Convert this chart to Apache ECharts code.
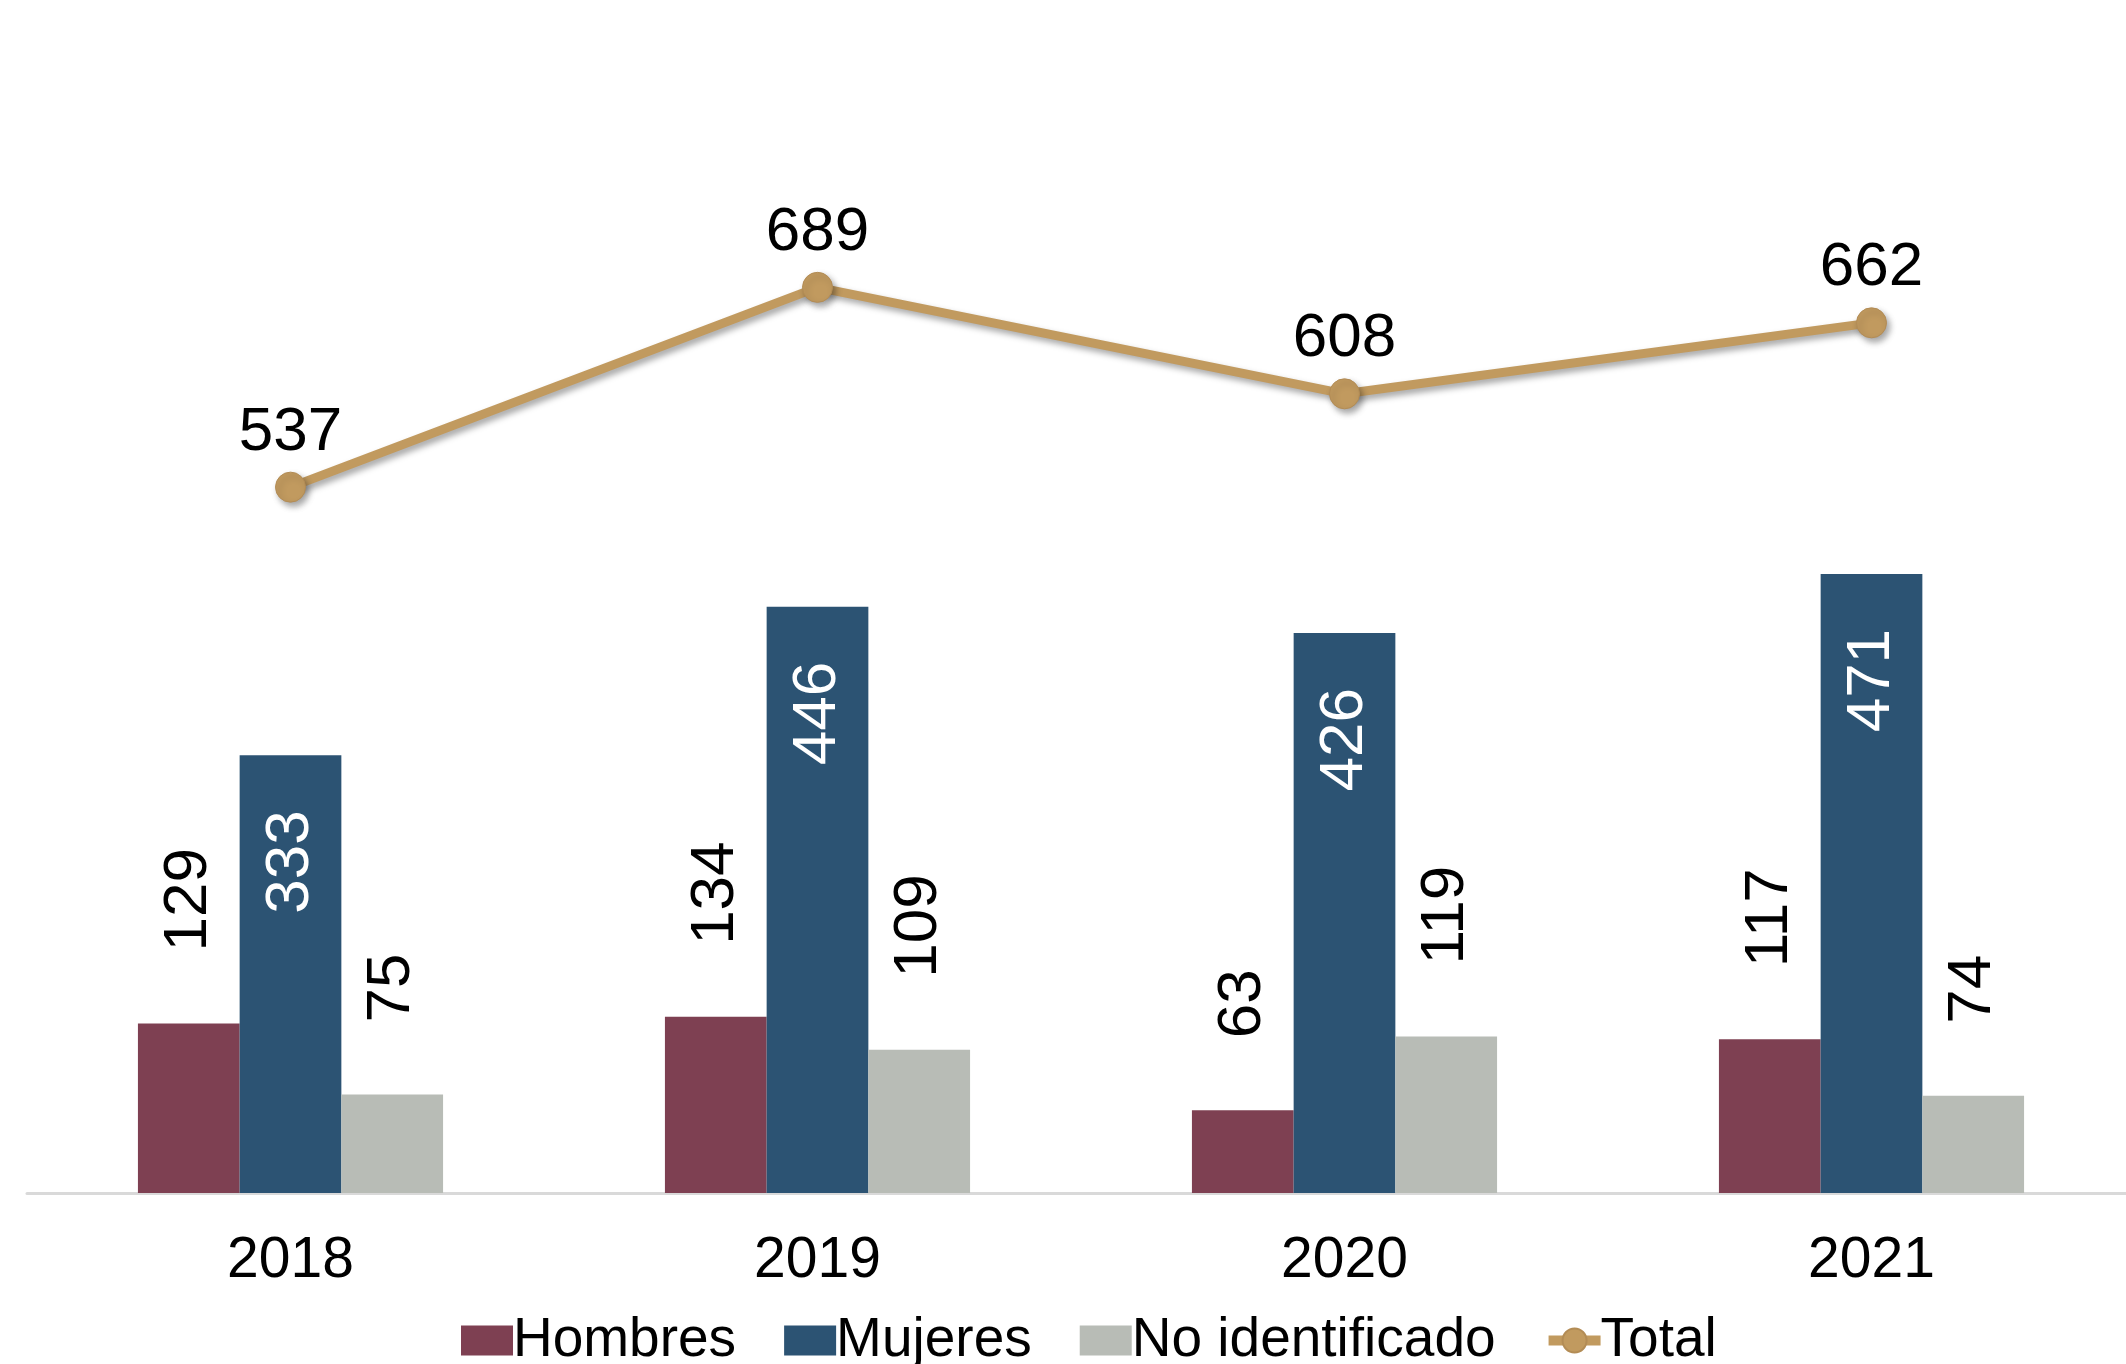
<!DOCTYPE html>
<html>
<head>
<meta charset="utf-8">
<script src="https://cdn.jsdelivr.net/npm/echarts@6/dist/echarts.min.js"></script>
<style>
html,body{margin:0;padding:0;background:#fff;overflow:hidden;width:2126px;height:1364px;}
#chart{width:2135px;height:1364px;}
</style>
</head>
<body>
<div id="chart"></div>
<script>
const categories = ['2018', '2019', '2020', '2021'];
const hombres = [129, 134, 63, 117];
const mujeres = [333, 446, 426, 471];
const noIdentificado = [75, 109, 119, 74];
const total = [537, 689, 608, 662];

const chart = echarts.init(document.getElementById('chart'));
const dataFont = 'Liberation Sans, Arial, sans-serif';

const outsideLabel = {
  show: true, position: 'top', rotate: 90, align: 'left', verticalAlign: 'middle',
  distance: 72, color: '#000', fontSize: 62, fontFamily: dataFont
};

chart.setOption({
  animation: false,
  backgroundColor: '#fff',
  grid: { left: 27, right: 0, top: 10, bottom: 171, containLabel: false },
  legend: {
    left: 456, top: 1308, itemGap: 48, itemWidth: 52, itemHeight: 30,
    textStyle: { fontSize: 55, fontFamily: dataFont, color: '#000', padding: [0,0,0,-5] },
    data: [
      { name: 'Hombres', icon: 'rect' },
      { name: 'Mujeres', icon: 'rect' },
      { name: 'No identificado', icon: 'rect' },
      { name: 'Total', lineStyle: { width: 10, color: '#C19A5F' }, itemStyle: { color: '#C19A5F' } }
    ]
  },
  xAxis: {
    type: 'category', data: categories,
    axisLine: { show: true, lineStyle: { color: '#D9D9D9', width: 3 } },
    axisTick: { show: false },
    axisLabel: { fontSize: 57, fontFamily: dataFont, color: '#000', margin: 40 }
  },
  yAxis: {
    type: 'value', min: 0, max: 900, show: false, splitLine: { show: false }
  },
  series: [
    {
      name: 'Hombres', type: 'bar', data: hombres, barWidth: '19.3%', barGap: '0%',
      itemStyle: { color: '#7E4052' }, label: outsideLabel
    },
    {
      name: 'Mujeres', type: 'bar', data: mujeres, barWidth: '19.3%', barGap: '0%',
      itemStyle: { color: '#2C5373' },
      label: {
        show: true, position: 'insideTop', rotate: 90, align: 'right', verticalAlign: 'middle',
        distance: 55, color: '#fff', fontSize: 62, fontFamily: dataFont
      }
    },
    {
      name: 'No identificado', type: 'bar', data: noIdentificado, barWidth: '19.3%', barGap: '0%',
      itemStyle: { color: '#B8BCB6' }, label: outsideLabel
    },
    {
      name: 'Total', type: 'line', data: total, symbol: 'circle', symbolSize: 30,
      lineStyle: { color: '#C19A5F', width: 9, shadowColor: 'rgba(0,0,0,0.35)', shadowBlur: 6, shadowOffsetX: 3, shadowOffsetY: 4 },
      itemStyle: { color: '#C19A5F', borderColor: '#B38C55', borderWidth: 1, shadowColor: 'rgba(0,0,0,0.35)', shadowBlur: 6, shadowOffsetX: 3, shadowOffsetY: 4 },
      label: { show: true, position: 'top', distance: 8, color: '#000', fontSize: 62, fontFamily: dataFont },
      z: 5
    }
  ]
});
</script>
</body>
</html>
